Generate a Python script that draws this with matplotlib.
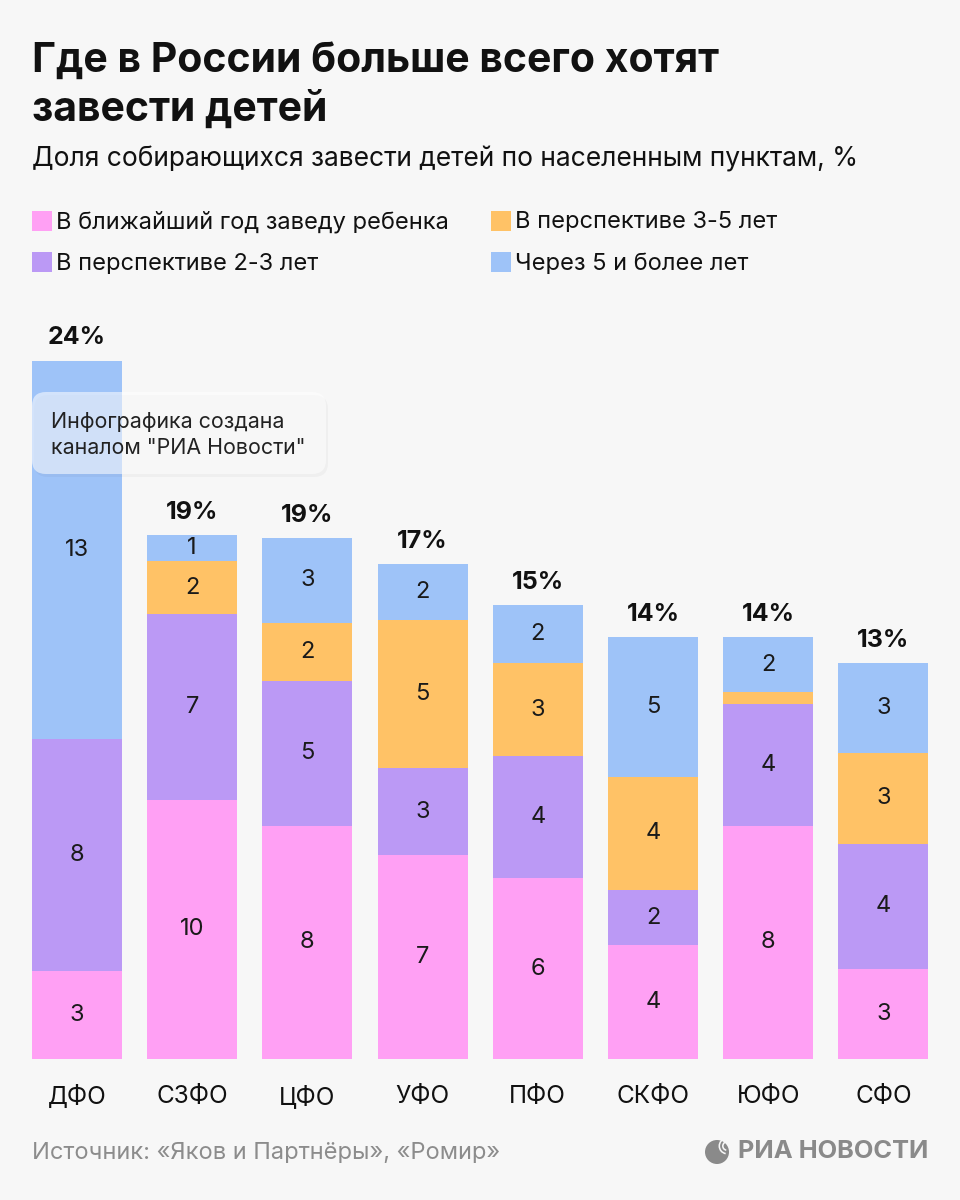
import numpy as np
import matplotlib.pyplot as plt
from matplotlib.patches import FancyBboxPatch, Rectangle, Circle, Wedge

plt.rcParams['font.family'] = ['Inter', 'DejaVu Sans']

# ----------------------------------------------------------------------
regions = ['ДФО', 'СЗФО', 'ЦФО', 'УФО', 'ПФО', 'СКФО', 'ЮФО', 'СФО']

# segment heights as drawn
next_year = [3.0, 8.9, 8.0, 7.0, 6.2, 3.9, 8.0, 3.1]
in_2_3 = [8.0, 6.4, 5.0, 3.0, 4.2, 1.9, 4.2, 4.3]
in_3_5 = [0.0, 1.8, 2.0, 5.1, 3.2, 3.9, 0.4, 3.1]
over_5 = [13.0, 0.9, 2.9, 1.9, 2.0, 4.8, 1.9, 3.1]

# printed labels
next_year_lbl = ['3', '10', '8', '7', '6', '4', '8', '3']
in_2_3_lbl = ['8', '7', '5', '3', '4', '2', '4', '4']
in_3_5_lbl = ['', '2', '2', '5', '3', '4', '', '3']
over_5_lbl = ['13', '1', '3', '2', '2', '5', '2', '3']
totals_lbl = ['24%', '19%', '19%', '17%', '15%', '14%', '14%', '13%']

series_names = ['В ближайший год заведу ребенка', 'В перспективе 2-3 лет',
                'В перспективе 3-5 лет', 'Через 5 и более лет']
colors = ['#ffa0f4', '#bb99f5', '#ffc266', '#9ec3f8']

BG = '#f7f7f7'
W, H = 960, 1200

fig = plt.figure(figsize=(9.6, 12), dpi=100, facecolor=BG)

# bars axes: bottom at 1058.7 px, 29.08 px per percent
px_per = 29.08
bottom_px = 1058.7
ax = fig.add_axes([19.4 / W, (H - bottom_px) / H, 921.6 / W, 30 * px_per / H])
ax.set_facecolor('none')
ax.set_xlim(-0.5, 7.5)
ax.set_ylim(0, 30)

x = np.arange(len(regions))
stack = [next_year, in_2_3, in_3_5, over_5]
labels = [next_year_lbl, in_2_3_lbl, in_3_5_lbl, over_5_lbl]
base = np.zeros(len(regions))
for vals, lbls, c in zip(stack, labels, colors):
    vals = np.array(vals)
    ax.bar(x, vals, bottom=base, width=0.78, color=c, linewidth=0)
    for i in range(len(regions)):
        if lbls[i]:
            ax.text(x[i], base[i] + vals[i] / 2, lbls[i], ha='center', va='center',
                    fontsize=17, color='#1a1a1a')
    base = base + vals

for i in range(len(regions)):
    ax.annotate(totals_lbl[i], (x[i], base[i]), xytext=(0, 23), textcoords='offset pixels',
                ha='center', va='center', fontsize=18, fontweight='bold', color='#111111')

ax.set_xticks(x)
ax.set_xticklabels(regions, fontsize=17.5, color='#111111')
ax.tick_params(axis='x', length=0, pad=19)
ax.set_yticks([])
for s in ax.spines.values():
    s.set_visible(False)

# ----------------------------------------------------------------------
# overlay in pixel coordinates for texts and decorations
ov = fig.add_axes([0, 0, 1, 1])
ov.set_xlim(0, W)
ov.set_ylim(H, 0)
ov.axis('off')
ov.set_facecolor('none')

ov.text(32, 71.7, 'Где в России больше всего хотят', fontsize=29.5, fontweight='bold',
        color='#111111', va='baseline')
ov.text(32, 120.7, 'завести детей', fontsize=29.5, fontweight='bold',
        color='#111111', va='baseline')
ov.text(32, 166.7, 'Доля собирающихся завести детей по населенным пунктам, %',
        fontsize=19, color='#111111', va='baseline')

leg_pos = [(32, 211), (32, 252), (491, 211), (491, 252)]
for (lx, ly), name, c in zip(leg_pos, series_names, colors):
    ov.add_patch(Rectangle((lx, ly), 20, 20, color=c, lw=0))
    ov.text(lx + 24, ly + 17.5, name, fontsize=17, color='#111111', va='baseline')

# watermark box
ov.add_patch(FancyBboxPatch((34, 395), 294, 82, boxstyle='round,pad=0,rounding_size=14',
                            fc='#000000', ec='none', alpha=0.03, zorder=3))
ov.add_patch(FancyBboxPatch((32, 392), 294, 82, boxstyle='round,pad=0,rounding_size=14',
                            fc='#ffffff', ec='none', alpha=0.55, zorder=4))
ov.text(51, 421.5, 'Инфографика создана', fontsize=15.4, color='#222222', va='center', zorder=5)
ov.text(51, 448.5, 'каналом "РИА Новости"', fontsize=15.4, color='#222222', va='center', zorder=5)

# footer
ov.text(32, 1153, 'Источник: «Яков и Партнёры», «Ромир»', fontsize=17,
        color='#8c8c8c', va='center')
ov.text(928, 1152, 'РИА НОВОСТИ', fontsize=18.3, fontweight='bold', color='#8a8a8a',
        ha='right', va='center')
ov.add_patch(Circle((717, 1152), 12, color='#8a8a8a', lw=0))
for r in [5, 8.5]:
    ov.add_patch(Wedge((727, 1146), r, 100, 260, width=1.6, color=BG, lw=0))

fig.savefig('out.png', dpi=100, facecolor=BG)
